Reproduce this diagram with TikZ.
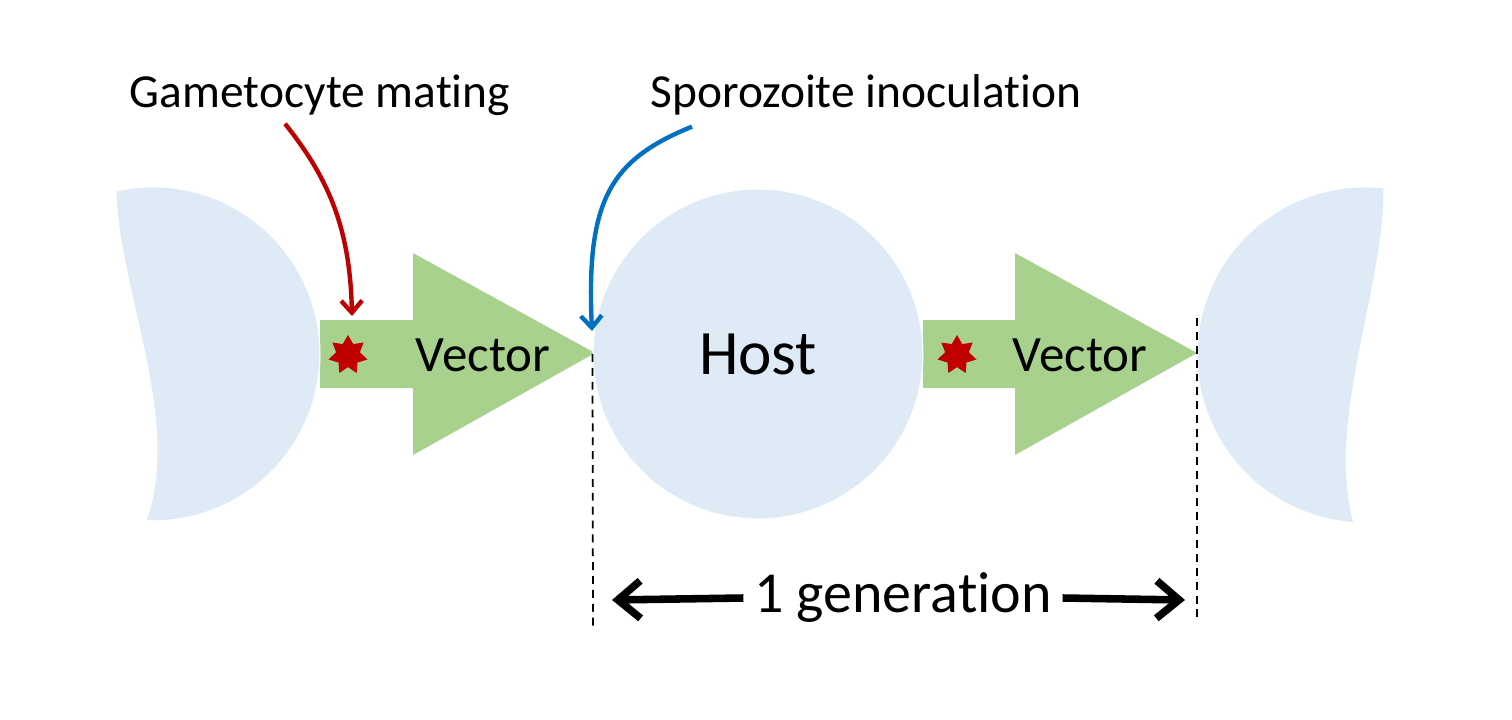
\documentclass[tikz,border=0pt]{standalone}
\usepackage{fontspec}
\setmainfont{Carlito}[Ligatures=NoCommon]
\usetikzlibrary{shapes.geometric,arrows.meta}

\definecolor{hostblue}{HTML}{DEEAF6}
\definecolor{vecgreen}{HTML}{A9D18E}
\definecolor{matered}{HTML}{C00000}
\definecolor{inocblue}{HTML}{0070C0}

\tikzset{
  cell/.style={circle, fill=hostblue, draw=white, line width=0.6pt, minimum size=6.6cm, inner sep=0pt},
  torn/.style={fill=hostblue, draw=white, line width=0.6pt},
  vecbody/.style={fill=vecgreen},
  spark/.style={star, star points=7, star point ratio=1.65, fill=matered, minimum size=0.8cm, inner sep=0pt},
  tag/.style={font=\fontsize{27}{30}\selectfont, inner sep=0pt},
  pointer/.style={line width=2.5pt, -{Straight Barb[length=0.24cm, width=0.42cm]}},
  span/.style={line width=4.3pt, -{Straight Barb[length=0.45cm, width=0.75cm]}},
  edge/.style={dashed, line width=1pt, dash pattern=on 4.5pt off 3.4pt},
}

\begin{document}
\begin{tikzpicture}[x=0.02cm, y=-0.02cm]
    \useasboundingbox (0,0) rectangle (1512,720);

    % vectors
    \foreach \s/\t [count=\i] in {320/595, 923/1197} {
      \fill[vecbody] (\s,320) -- (\t-182,320) -- (\t-182,253) -- (\t,353)
        -- (\t-182,455) -- (\t-182,388) -- (\s,388) -- cycle;
    }

    % hosts
    \node[cell, font=\fontsize{36}{40}\selectfont] (host) at (758,354) {Host};
    \draw[torn] (116,191) arc[start angle=-102.8, end angle=92.4, radius=167]
      .. controls (182,420) and (118,290) .. (116,191) -- cycle;
    \draw[torn] (1384,188) arc[start angle=-83.5, end angle=-266.2, radius=168]
      .. controls (1326,420) and (1385,290) .. (1384,188) -- cycle;

    \node[font=\fontsize{29}{32}\selectfont] (lword) at (483,355) {Vector};
    \node[font=\fontsize{29}{32}\selectfont] (rword) at (1080,355) {Vector};
    \node[spark] (lstar) at (348,355) {};
    \node[spark] (rstar) at (957,355) {};

    % labels
    \node[tag] (gam) at (320,95) {Gametocyte mating};
    \node[tag] (spo) at (866,95) {Sporozoite inoculation};
    \coordinate (mate) at (352,316);
    \coordinate (inoc) at (592,331);
    \draw[pointer, matered] (gam.south -| 285,0) ++(0,8) .. controls (330,180) and (350,230) .. (mate);
    \draw[pointer, inocblue] (spo.south -| 692,0) ++(0,11) .. controls (610,160) and (586,200) .. (inoc);

    % generation
    \coordinate (ltop) at (host.west);
    \coordinate (lbot) at (593,630);
    \coordinate (rtop) at (1197,318);
    \coordinate (rbot) at (1197,620);
    \draw[edge] (ltop) -- (lbot);
    \draw[edge] (rtop) -- (rbot);
    \node[font=\fontsize{33}{36}\selectfont, inner sep=6pt] (gen) at (903,598) {1 generation};
    \draw[span] (gen.west) -- (612,600);
    \draw[span] (gen.east) -- (1185,600);
  \end{tikzpicture}
\end{document}
